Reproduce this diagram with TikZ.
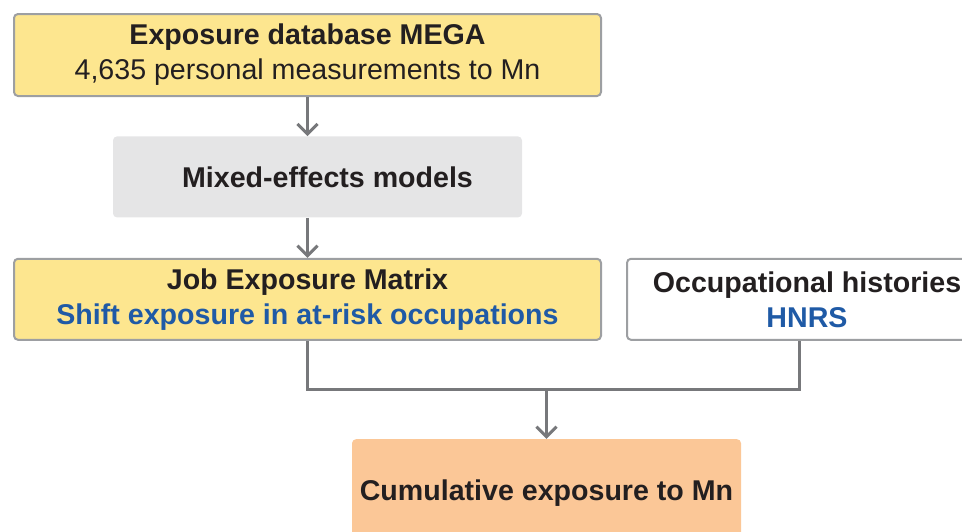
\documentclass[tikz,border=0pt]{standalone}
\usepackage{fontspec}
\setmainfont{Liberation Sans}
\usepackage{tikz}
\usetikzlibrary{arrows.meta, positioning}
\definecolor{boxyellow}{HTML}{FDE68F}
\definecolor{boxgray}{HTML}{E5E5E6}
\definecolor{boxorange}{HTML}{FBC797}
\definecolor{linegray}{HTML}{77787B}
\definecolor{edgegray}{HTML}{9D9FA2}
\definecolor{textblue}{HTML}{1F5AA6}
\definecolor{textblack}{HTML}{231F20}
\tikzstyle{node_style} = [rectangle, rounded corners=2pt, align=center, text=textblack, font=\fontsize{14.3}{17.5}\selectfont, inner sep=0pt]
\tikzstyle{arrow_style} = [line width=1.5pt, draw=linegray, -{Straight Barb[length=5pt, width=10pt, line width=1.5pt]}]
\tikzstyle{line_style} = [line width=1.5pt, draw=linegray]

\begin{document}
\begin{tikzpicture}
	
	  \useasboundingbox (0,0) rectangle (481pt,-265.5pt);
	
	  % first column
	  \node[node_style, draw=edgegray, line width=1pt, fill=boxyellow, minimum width=293.5pt, minimum height=41pt] (node0) at (153.75pt,-27.5pt) {\textbf{Exposure database MEGA}\\4,635 personal measurements to Mn};
	  \node[node_style, fill=boxgray, minimum width=204.5pt, minimum height=40.5pt, below=19.5pt of node0, xshift=5pt] (node1) {\hspace*{10pt}\textbf{Mixed-effects models}};
	  \draw[arrow_style] (node0.south) -- (node0.south |- node1.north);
	  
	  % second row
	  \node[node_style, draw=edgegray, line width=1pt, fill=boxyellow, minimum width=293.5pt, minimum height=40.5pt, below=20pt of node1, xshift=-5pt] (node2) {\textbf{Job Exposure Matrix}\\\textcolor{textblue}{\textbf{Shift exposure in at-risk occupations}}};
	  \node[node_style, draw=edgegray, line width=1pt, fill=white, minimum width=180pt, minimum height=40.5pt, right=12pt of node2] (node3) {\textbf{Occupational histories}\\\textcolor{textblue}{\textbf{HNRS}}};
	  \draw[arrow_style] (node1.south -| node0.south) -- (node2.north);
	  
	  % result
	  \node[node_style, fill=boxorange, minimum width=194.5pt, minimum height=54pt, below=49pt of node2, xshift=119.5pt] (node4) {\textbf{Cumulative exposure to Mn}};
	  \coordinate (merge) at ([yshift=-24.5pt]node2.south);
	  \draw[line_style] (node2.south) -- (merge) -| ([xshift=-4pt]node3.south);
	  \draw[arrow_style] (node4.north |- merge) -- (node4.north);
	  
\end{tikzpicture}
\end{document}
